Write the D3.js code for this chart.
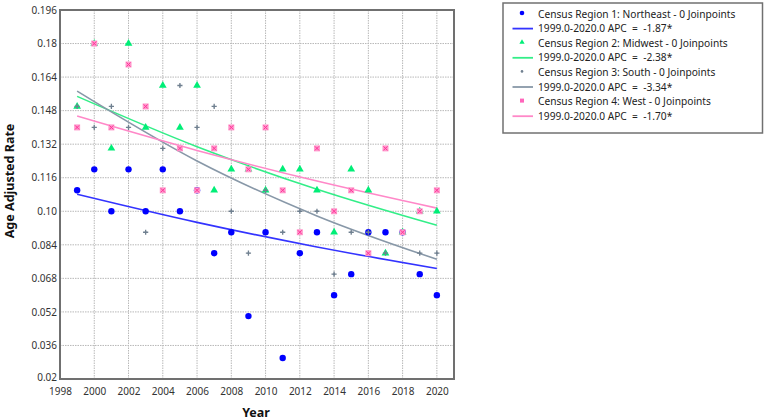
<!DOCTYPE html>
<html><head><meta charset="utf-8">
<script src="https://cdn.jsdelivr.net/npm/d3@7"></script>
<style>
html,body{margin:0;padding:0;background:#fff;}
svg{display:block;}
text{font-family:"Noto Sans","Open Sans",sans-serif;}
</style></head>
<body><svg id="c" width="765" height="420"></svg>
<script>
const years = [1999,2000,2001,2002,2003,2004,2005,2006,2007,2008,2009,2010,2011,2012,2013,2014,2015,2016,2017,2018,2019,2020];
const northeast = [0.11,0.12,0.10,0.12,0.10,0.12,0.10,0.11,0.08,0.09,0.05,0.09,0.03,0.08,0.09,0.06,0.07,0.09,0.09,0.09,0.07,0.06];
const midwest   = [0.15,0.18,0.13,0.18,0.14,0.16,0.14,0.16,0.11,0.12,0.12,0.11,0.12,0.12,0.11,0.09,0.12,0.11,0.08,0.09,0.10,0.10];
const south     = [0.15,0.14,0.15,0.14,0.09,0.13,0.16,0.14,0.15,0.10,0.08,0.11,0.09,0.10,0.10,0.07,0.09,0.09,0.08,0.09,0.08,0.08];
const west      = [0.14,0.18,0.14,0.17,0.15,0.11,0.13,0.11,0.13,0.14,0.12,0.14,0.11,0.09,0.13,0.10,0.11,0.08,0.13,0.09,0.10,0.11];
// fitted trend values
const trendYears = [1999,2006,2013,2020];
const northeastFit = [0.1081,0.0947,0.0830,0.0727];
const midwestFit   = [0.1548,0.1308,0.1105,0.0933];
const southFit     = [0.1573,0.1240,0.0978,0.0771];
const westFit      = [0.1454,0.1290,0.1144,0.1015];
const seriesNames = ["Census Region 1: Northeast - 0 Joinpoints","Census Region 2: Midwest - 0 Joinpoints","Census Region 3: South - 0 Joinpoints","Census Region 4: West - 0 Joinpoints"];
const apcLabels = ["1999.0-2020.0 APC  =  -1.87*","1999.0-2020.0 APC  =  -2.38*","1999.0-2020.0 APC  =  -3.34*","1999.0-2020.0 APC  =  -1.70*"];
const xTicks = [1998,2000,2002,2004,2006,2008,2010,2012,2014,2016,2018,2020];
const yTicks = [0.02,0.036,0.052,0.068,0.084,0.10,0.116,0.132,0.148,0.164,0.18,0.196];
const yTickLabels = ["0.02","0.036","0.052","0.068","0.084","0.10","0.116","0.132","0.148","0.164","0.18","0.196"];

const svg = d3.select("#c");
const L=60, T=10, R=454, B=379;
const x = d3.scaleLinear().domain([1998,2021]).range([L,R]);
const y = d3.scaleLinear().domain([0.02,0.196]).range([B,T]);

// grid
const g = svg.append("g");
g.selectAll("line.vg").data(xTicks.slice(1)).join("line")
  .attr("x1",d=>x(d)).attr("x2",d=>x(d)).attr("y1",T).attr("y2",B)
  .attr("stroke","#b8b8b8").attr("stroke-width",1).attr("stroke-dasharray","1.5,1");
g.selectAll("line.hg").data(yTicks.slice(1)).join("line")
  .attr("x1",L).attr("x2",R).attr("y1",d=>y(d)).attr("y2",d=>y(d))
  .attr("stroke","#b8b8b8").attr("stroke-width",1).attr("stroke-dasharray","1.5,1");

// axes
const xAxis = d3.axisBottom(x).tickValues(xTicks).tickFormat(d3.format("d")).tickSize(0).tickPadding(9);
const yAxis = d3.axisLeft(y).tickValues(yTicks).tickFormat((d,i)=>yTickLabels[i]).tickSize(0).tickPadding(3);
const gx = svg.append("g").attr("transform",`translate(0,${B})`).call(xAxis);
const gy = svg.append("g").attr("transform",`translate(${L},0)`).call(yAxis);
[gx,gy].forEach(a=>{a.select(".domain").remove(); a.selectAll("text").attr("font-size",10).attr("fill","#333").style("font-family","'Noto Sans',sans-serif");});
gy.selectAll("text").filter((d,i)=>i===0).attr("dy","0.15em");

// frame
svg.append("rect").attr("x",L).attr("y",T).attr("width",R-L).attr("height",B-T)
  .attr("fill","none").attr("stroke","#707070").attr("stroke-width",2);

// axis titles
svg.append("text").attr("x",256).attr("y",417).attr("text-anchor","middle")
  .attr("font-size",12.5).attr("font-weight","bold").attr("fill","#111").text("Year");
svg.append("text").attr("transform","translate(14,181) rotate(-90)").attr("text-anchor","middle")
  .attr("font-size",12.5).attr("font-weight","bold").attr("fill","#111").text("Age Adjusted Rate");

// trend lines
const colorsLine = ["#3333ff","#33ee88","#8898a8","#ff88c8"];
const fits = [northeastFit,midwestFit,southFit,westFit];
const line = d3.line().x(d=>x(d[0])).y(d=>y(d[1])).curve(d3.curveMonotoneX);
fits.forEach((f,i)=>{
  svg.append("path").datum(trendYears.map((yr,j)=>[yr,f[j]]))
    .attr("d",line).attr("fill","none").attr("stroke",colorsLine[i]).attr("stroke-width",1.6);
});

// markers
function drawMarker(sel,type){
  if(type===0){ sel.append("circle").attr("r",3.2).attr("fill","#0000ff"); }
  else if(type===1){ sel.append("path").attr("d",d3.symbol(d3.symbolTriangle,26)()).attr("fill","#00ee77"); }
  else if(type===2){ sel.append("path").attr("d","M-2.6,0H2.6M0,-2.6V2.6").attr("stroke","#708090").attr("stroke-width",1.3);
                     sel.append("circle").attr("r",1).attr("fill","#708090"); }
  else { sel.append("rect").attr("x",-3).attr("y",-3).attr("width",6).attr("height",6).attr("fill","#ff99cc");
         sel.append("path").attr("d","M-2,-2L2,2M2,-2L-2,2").attr("stroke","#ff3399").attr("stroke-width",1); }
}
const series = [northeast,midwest,south,west];
[0,1,2,3].forEach(si=>{
  const gs = svg.append("g");
  series[si].forEach((v,j)=>{
    const m = gs.append("g").attr("transform",`translate(${x(years[j])},${y(v)})`);
    drawMarker(m,si);
  });
});

// legend
const lg = svg.append("g");
lg.append("rect").attr("x",503).attr("y",3).attr("width",259.5).attr("height",130)
  .attr("fill","#fff").attr("stroke","#707070").attr("stroke-width",1.5);
const rowH = 14.6;
seriesNames.forEach((nm,i)=>{
  const y1 = 14 + (2*i)*rowH, y2 = 14 + (2*i+1)*rowH;
  const m = lg.append("g").attr("transform",`translate(522,${y1-1})`);
  if(i===0) m.append("circle").attr("r",2.3).attr("fill","#0000ff");
  else if(i===1) m.append("path").attr("d",d3.symbol(d3.symbolTriangle,12)()).attr("fill","#00ee77");
  else if(i===2) m.append("circle").attr("r",1.3).attr("fill","#708090");
  else m.append("rect").attr("x",-2).attr("y",-2).attr("width",4).attr("height",4).attr("fill","#ff66bb");
  lg.append("text").attr("x",538).attr("y",y1+3.5).attr("font-size",10.2).attr("fill","#222").text(nm);
  lg.append("line").attr("x1",512.5).attr("x2",533).attr("y1",y2).attr("y2",y2)
    .attr("stroke",colorsLine[i]).attr("stroke-width",1.8);
  lg.append("text").attr("x",538).attr("y",y2+3.5).attr("font-size",10.2).attr("fill","#222")
    .attr("xml:space","preserve").style("white-space","pre").text(apcLabels[i]);
});
</script></body></html>
